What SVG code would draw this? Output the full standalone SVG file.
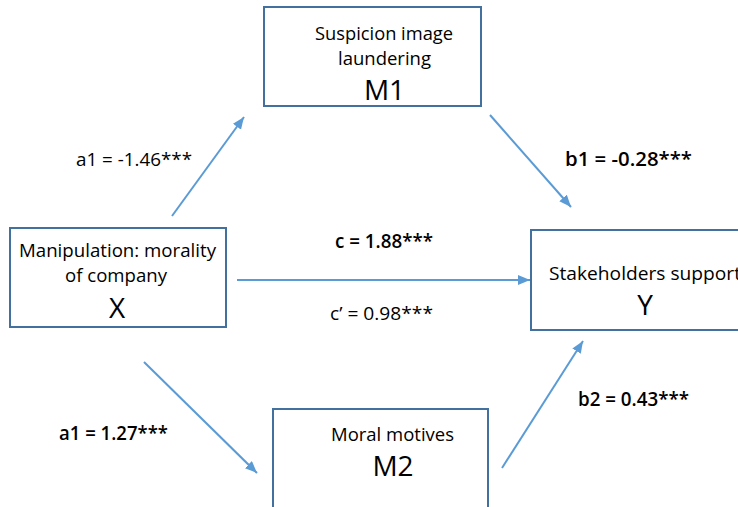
<svg xmlns="http://www.w3.org/2000/svg" width="738" height="507" viewBox="0 0 738 507">
<defs>
<marker id="ah" viewBox="0 0 12 10" refX="12" refY="5" markerWidth="12" markerHeight="10" markerUnits="userSpaceOnUse" orient="auto">
<path d="M0,0 L12,5 L0,10 Z" fill="#5B9BD5"/>
</marker>
<style>
.box{fill:#fff;stroke:#41719C;stroke-width:2}
.t{font-family:"Open Sans","Noto Sans","Liberation Sans",sans-serif;fill:#000}
.m{font-size:19px}
.big{font-size:28px}
.lab{font-size:19px}
.b{font-weight:600}
.arr{stroke:#5B9BD5;stroke-width:2;fill:none;marker-end:url(#ah)}
</style>
</defs>
<rect width="738" height="507" fill="#fff"/>
<g id="connectors">
<line class="arr" x1="172" y1="216" x2="244" y2="117"/>
<line class="arr" x1="490" y1="115" x2="571" y2="207"/>
<line class="arr" x1="237" y1="280" x2="530" y2="280"/>
<line class="arr" x1="144" y1="362" x2="257" y2="473"/>
<line class="arr" x1="502" y1="468" x2="583" y2="341"/>
<text class="t lab" x="76" y="166" textLength="116" lengthAdjust="spacingAndGlyphs">a1 = -1.46***</text>
<text class="t lab b" x="565" y="166" textLength="127" lengthAdjust="spacingAndGlyphs">b1 = -0.28***</text>
<text class="t lab b" x="335" y="248" textLength="98" lengthAdjust="spacingAndGlyphs">c = 1.88***</text>
<text class="t lab" x="330" y="320" textLength="103" lengthAdjust="spacingAndGlyphs">c’ = 0.98***</text>
<text class="t lab b" x="59" y="440" textLength="109" lengthAdjust="spacingAndGlyphs">a1 = 1.27***</text>
<text class="t lab b" x="578" y="406" textLength="111" lengthAdjust="spacingAndGlyphs">b2 = 0.43***</text>
</g>
<g id="M1">
<rect class="box" x="264" y="7" width="217" height="99"/>
<text class="t m" x="384" y="40" text-anchor="middle" textLength="138" lengthAdjust="spacingAndGlyphs">Suspicion image</text>
<text class="t m" x="384.5" y="65" text-anchor="middle" textLength="93" lengthAdjust="spacingAndGlyphs">laundering</text>
<text class="t big" x="384.5" y="100" text-anchor="middle">M1</text>
</g>
<g id="X">
<rect class="box" x="10" y="228" width="216" height="99"/>
<text class="t m" x="117.5" y="257" text-anchor="middle" textLength="197" lengthAdjust="spacingAndGlyphs">Manipulation: morality</text>
<text class="t m" x="116" y="282" text-anchor="middle" textLength="102" lengthAdjust="spacingAndGlyphs">of company</text>
<text class="t big" x="117" y="318" text-anchor="middle">X</text>
</g>
<g id="Y">
<rect class="box" x="531" y="230" width="220" height="100"/>
<text class="t m" x="549" y="280" textLength="192" lengthAdjust="spacingAndGlyphs">Stakeholders support</text>
<text class="t big" x="645" y="315" text-anchor="middle">Y</text>
</g>
<g id="M2">
<rect class="box" x="273" y="409" width="215" height="110"/>
<text class="t m" x="392.5" y="441" text-anchor="middle" textLength="123" lengthAdjust="spacingAndGlyphs">Moral motives</text>
<text class="t big" x="393" y="476" text-anchor="middle">M2</text>
</g>
</svg>
